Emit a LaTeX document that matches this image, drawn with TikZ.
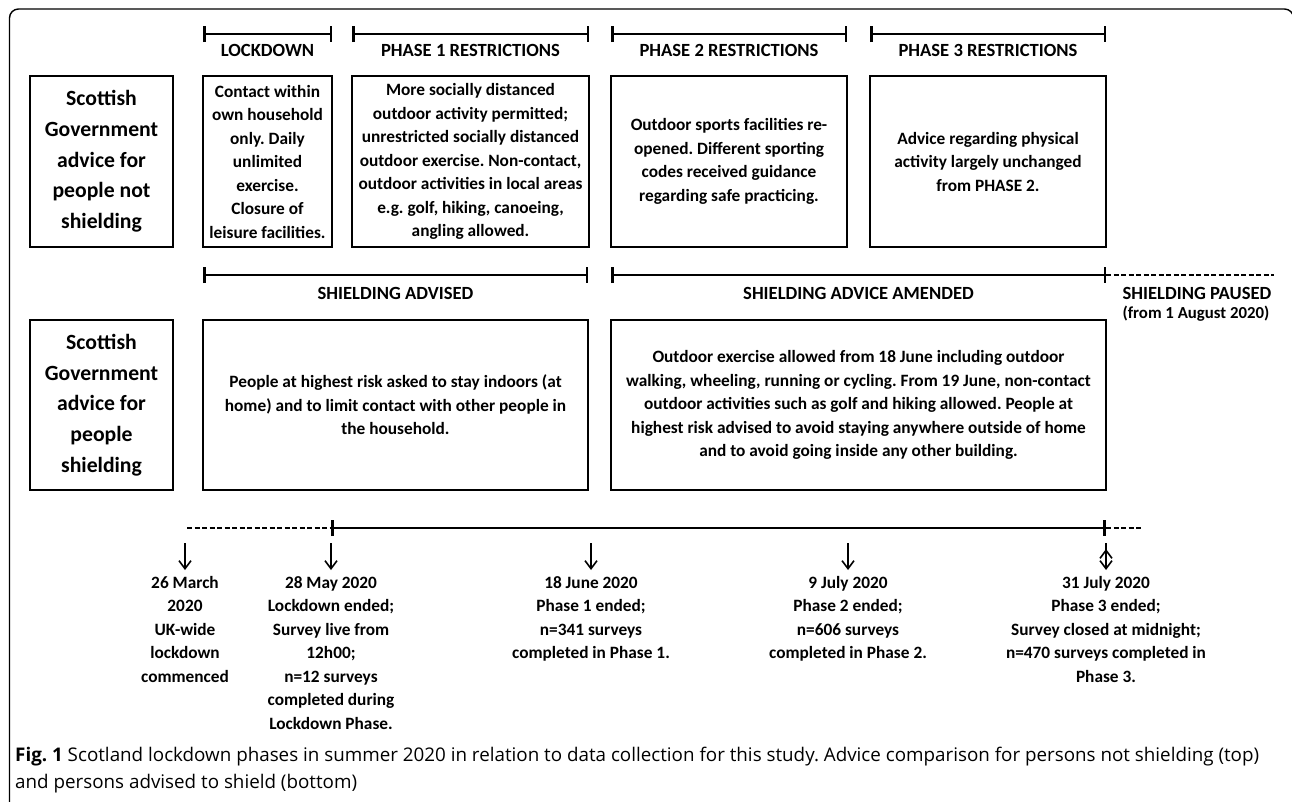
\documentclass[tikz,border=0pt]{standalone}
\usepackage{fontspec}
\setmainfont{Carlito}
\newfontfamily\capfont{Open Sans}
\frenchspacing
\usetikzlibrary{positioning, arrows.meta}
\tikzset{>={Straight Barb[length=8pt, width=12pt]},
         node distance=20pt,
         box/.style={draw, line width=2.8pt, outer sep=0pt, inner sep=1pt, align=center,
                     font=\bfseries\fontsize{17.3}{23.5}\selectfont},
         sglabel/.style={box, minimum width=143pt, font=\bfseries\fontsize{21.7}{30.7}\selectfont},
         headtext/.style={anchor=base, inner sep=0pt, font=\bfseries\fontsize{18.6}{22}\selectfont},
         notetext/.style={anchor=base, inner sep=0pt, font=\bfseries\fontsize{16.8}{19}\selectfont},
         spanbar/.style={line width=2.5pt, {Bar[width=16pt]}-{Bar[width=16pt]}},
         dashline/.style={line width=1.8pt, dash pattern=on 5pt off 2.5pt},
         datetext/.style={anchor=north, align=center, inner sep=0pt,
                          font=\bfseries\fontsize{17.3}{23.5}\selectfont},
         downarrow/.style={->, line width=1.6pt, shorten >=6pt},
         }

\begin{document}
\begin{tikzpicture}[x=1pt, y=-1pt]
    \useasboundingbox (0,0) rectangle (1292,801);
    \draw[line width=1.4pt, rounded corners=9pt] (9.5,810) -- (9.5,9) -- (1293.5,9) -- (1293.5,810);

    \node[sglabel, minimum height=171pt] (nsLabel) at (101.5,161.5) {Scottish\\Government\\advice for\\people not\\shielding};
    \node[box, minimum width=129pt, minimum height=171pt, right=30pt of nsLabel] (lockBox) {Contact within\\own household\\only. Daily\\unlimited\\exercise.\\Closure of\\leisure facilities.};
    \node[box, minimum width=237pt, minimum height=171pt, right=20pt of lockBox] (ph1Box) {More socially distanced\\outdoor activity permitted;\\unrestricted socially distanced\\outdoor exercise. Non-contact,\\outdoor activities in local areas\\e.g. golf, hiking, canoeing,\\angling allowed.};
    \node[box, minimum width=236pt, minimum height=171pt, right=22pt of ph1Box] (ph2Box) {Outdoor sports facilities re-\\opened. Different sporting\\codes received guidance\\regarding safe practicing.};
    \node[box, minimum width=236pt, minimum height=171pt, right=23pt of ph2Box] (ph3Box) {Advice regarding physical\\activity largely unchanged\\from PHASE 2.};

    \draw[spanbar] ([yshift=42pt]lockBox.north west) -- ([yshift=42pt]lockBox.north east);
    \draw[spanbar] ([yshift=42pt]ph1Box.north west) -- ([yshift=42pt]ph1Box.north east);
    \draw[spanbar] ([yshift=42pt]ph2Box.north west) -- ([yshift=42pt]ph2Box.north east);
    \draw[spanbar] ([yshift=42pt]ph3Box.north west) -- ([yshift=42pt]ph3Box.north east);
    \node[headtext] (lockHead) at ([yshift=20pt]lockBox.north) {LOCKDOWN};
    \node[headtext] (ph1Head) at ([yshift=20pt]ph1Box.north) {PHASE 1 RESTRICTIONS};
    \node[headtext] (ph2Head) at ([yshift=20pt]ph2Box.north) {PHASE 2 RESTRICTIONS};
    \node[headtext] (ph3Head) at ([yshift=20pt]ph3Box.north) {PHASE 3 RESTRICTIONS};

    \node[sglabel, minimum height=170pt, below=73pt of nsLabel] (shLabel) {Scottish\\Government\\advice for\\people\\shielding};
    \node[box, minimum width=385pt, minimum height=170pt, below=73pt of lockBox.south west, anchor=north west] (advBox) {People at highest risk asked to stay indoors (at\\home) and to limit contact with other people in\\the household.};
    \node[box, minimum width=495pt, minimum height=170pt, right=23pt of advBox] (amBox) {Outdoor exercise allowed from 18 June including outdoor\\walking, wheeling, running or cycling. From 19 June, non-contact\\outdoor activities such as golf and hiking allowed. People at\\highest risk advised to avoid staying anywhere outside of home\\and to avoid going inside any other building.};

    \draw[spanbar] ([yshift=45pt]advBox.north west) -- ([yshift=45pt]advBox.north east);
    \draw[spanbar] ([yshift=45pt]amBox.north west) -- ([yshift=45pt]amBox.north east);
    \draw[dashline] ([yshift=45pt]amBox.north east) -- ([xshift=168pt,yshift=45pt]amBox.north east);
    \node[headtext] (advHead) at ([yshift=21pt]advBox.north) {SHIELDING ADVISED};
    \node[headtext] (amHead) at ([yshift=21pt]amBox.north) {SHIELDING ADVICE AMENDED};
    \node[headtext] (pauseHead) at ([xshift=91pt,yshift=21pt]amBox.north east) {SHIELDING PAUSED};
    \node[notetext] (pauseNote) at ([xshift=90pt,yshift=2pt]amBox.north east) {(from 1 August 2020)};

    \coordinate (tlStart) at (187,528);
    \coordinate (tlMay) at (331,528);
    \coordinate (tlJul) at (1106,528);
    \coordinate (tlEnd) at (1141,528);
    \draw[dashline] (tlStart) -- (tlMay);
    \draw[spanbar, line width=2.6pt] (tlMay) -- (tlJul);
    \draw[dashline] (tlJul) -- (tlEnd);

    \node[datetext] (dMar) at (185,576) {26 March\\2020\\UK-wide\\lockdown\\commenced};
    \node[datetext] (dMay) at (331,576) {28 May 2020\\Lockdown ended;\\Survey live from\\12h00;\\n=12 surveys\\completed during\\Lockdown Phase.};
    \node[datetext] (dJun) at (591,576) {18 June 2020\\Phase 1 ended;\\n=341 surveys\\completed in Phase 1.};
    \node[datetext] (dJul) at (848,576) {9 July 2020\\Phase 2 ended;\\n=606 surveys\\completed in Phase 2.};
    \node[datetext] (dEnd) at (1106,576) {31 July 2020\\Phase 3 ended;\\Survey closed at midnight;\\n=470 surveys completed in\\Phase 3.};

    \draw[downarrow] ([yshift=33pt]dMar.north) edge (dMar)
                     ([yshift=33pt]dMay.north) edge (dMay)
                     ([yshift=33pt]dJun.north) edge (dJun)
                     ([yshift=33pt]dJul.north) edge (dJul)
                     ([yshift=33pt]dEnd.north) edge (dEnd);

    \node[anchor=north west, inner sep=0pt, align=left, font=\capfont\fontsize{18.8}{26.5}\selectfont] (caption) at (15,747) {\textbf{Fig. 1} Scotland lockdown phases in summer 2020 in relation to data collection for this study. Advice comparison for persons not shielding (top)\\and persons advised to shield (bottom)};
\end{tikzpicture}
\end{document}
